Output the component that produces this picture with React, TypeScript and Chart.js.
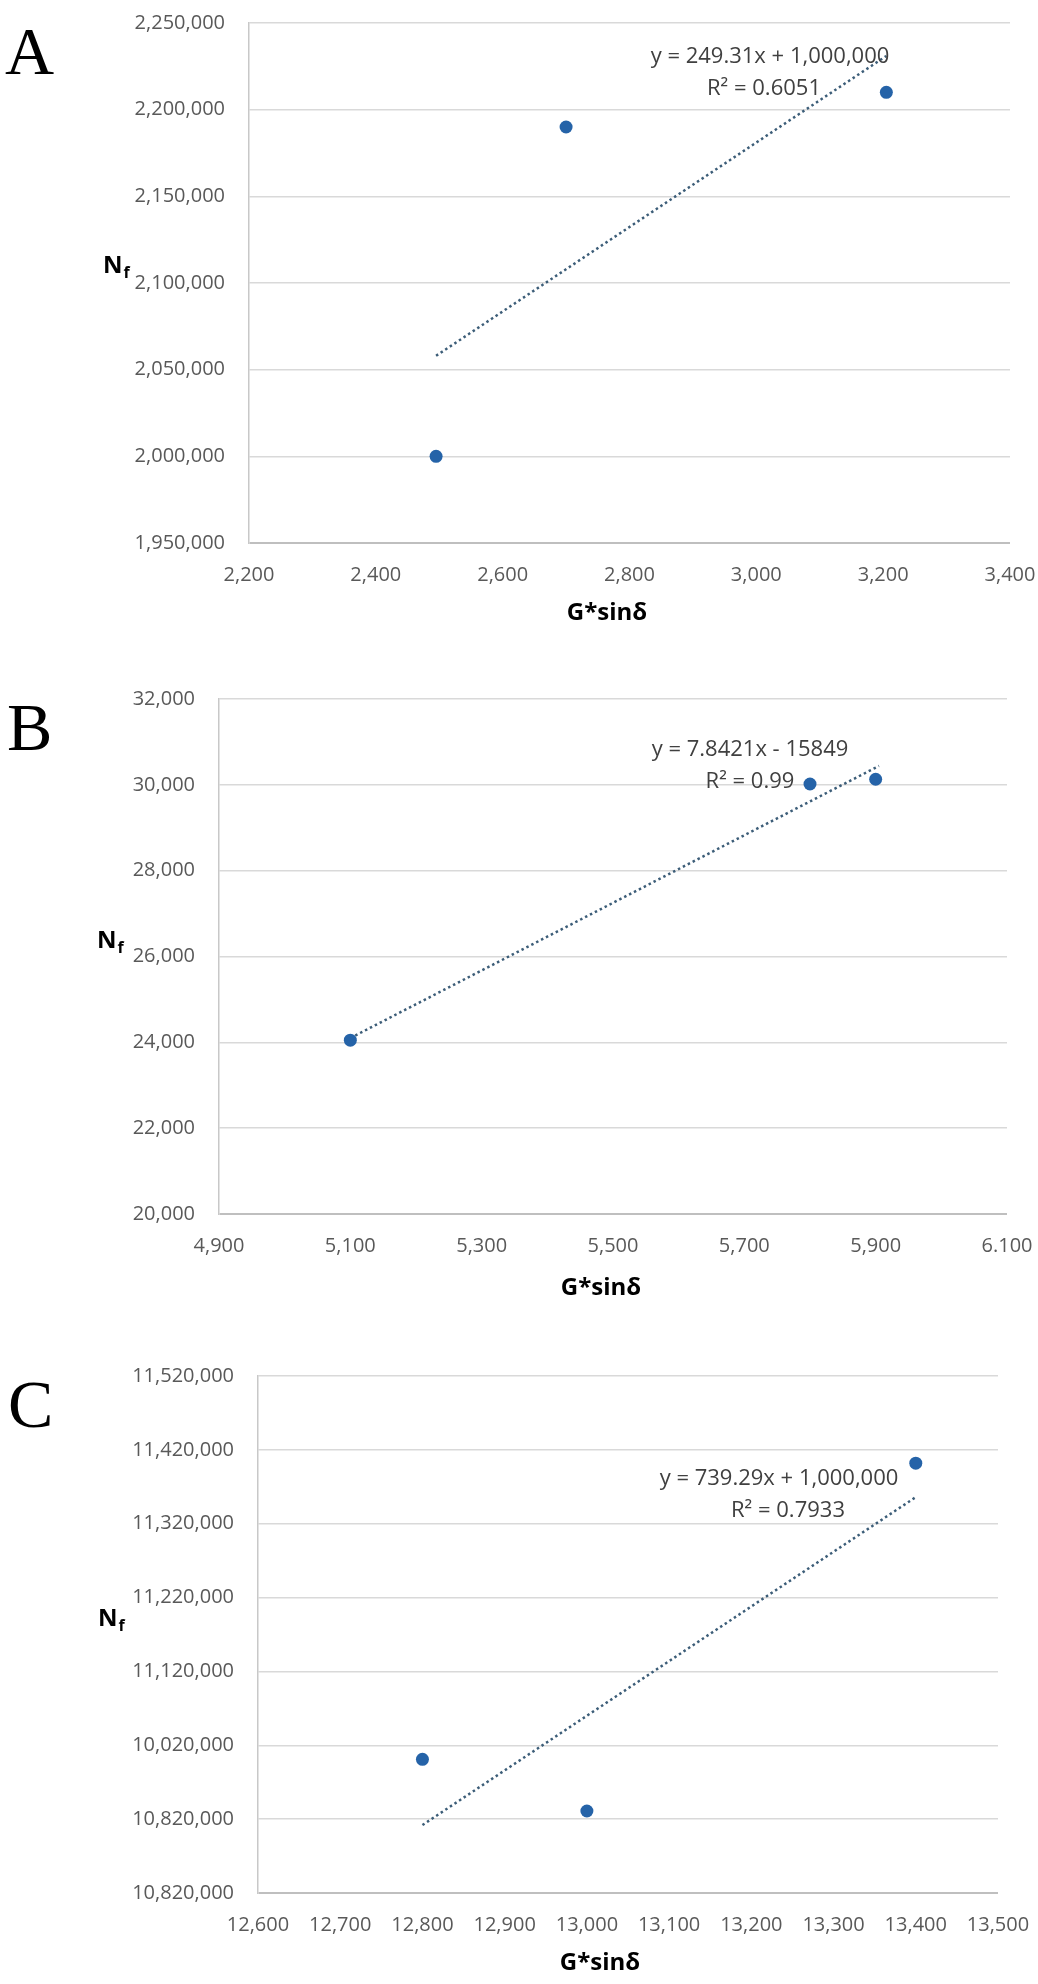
import React, { useEffect, useRef } from 'react';
import { Chart, registerables } from 'chart.js';

Chart.register(...registerables);

// === Panel A ===
const xA = [2495, 2700, 3205];
const yA = [2000000, 2190000, 2210000];
const trendXA = [2495, 3205];
const trendYA = [2058000, 2231000];
const xTicksA = ['2,200', '2,400', '2,600', '2,800', '3,000', '3,200', '3,400'];
const yTicksA = ['1,950,000', '2,000,000', '2,050,000', '2,100,000', '2,150,000', '2,200,000', '2,250,000'];
const eqA = ['y = 249.31x + 1,000,000', 'R\u00B2 = 0.6051'];

// === Panel B ===
const xB = [5100, 5800, 5900];
const yB = [24050, 30020, 30130];
const trendXB = [5100, 5905];
const trendYB = [24100, 30440];
const xTicksB = ['4,900', '5,100', '5,300', '5,500', '5,700', '5,900', '6.100'];
const yTicksB = ['20,000', '22,000', '24,000', '26,000', '28,000', '30,000', '32,000'];
const eqB = ['y = 7.8421x - 15849', 'R\u00B2 = 0.99'];

// === Panel C ===
const xC = [12800, 13000, 13400];
const yC = [11001000, 10931000, 11402000];
const trendXC = [12800, 13400];
const trendYC = [10912000, 11356000];
const xTicksC = ['12,600', '12,700', '12,800', '12,900', '13,000', '13,100', '13,200', '13,300', '13,400', '13,500'];
// labels as printed in the figure (bottom to top)
const yTicksC = ['10,820,000', '10,820,000', '10,020,000', '11,120,000', '11,220,000', '11,320,000', '11,420,000', '11,520,000'];
const eqC = ['y = 739.29x + 1,000,000', 'R\u00B2 = 0.7933'];

// === Styles ===
const W = 1038;
const DOT = '#2563a8';
const TREND = '#3c5d78';
const TICK = '#595959';
const GRID = '#d9d9d9';
const AXIS = '#bfbfbf';
const SANS = '"Open Sans", "Noto Sans", sans-serif';

interface PanelProps {
  letter: string;
  top: number;
  height: number;
  area: { left: number; right: number; top: number; bottom: number };
  xRange: [number, number, number];
  yRange: [number, number, number];
  xs: number[];
  ys: number[];
  trendX: number[];
  trendY: number[];
  xTicks: string[];
  yTicks: string[];
  eq: string[];
  eqPos: [number, number][];
  letterPos: [number, number];
  nfPos: [number, number];
  titlePos: [number, number];
}

const Panel: React.FC<PanelProps> = (p) => {
  const canvasRef = useRef<HTMLCanvasElement>(null);

  useEffect(() => {
    if (!canvasRef.current) return;

    // letters, axis titles and the trendline equation
    const textPlugin = {
      id: 'panelText',
      afterDraw(chart: Chart) {
        const ctx = chart.ctx;
        ctx.save();
        ctx.textBaseline = 'alphabetic';

        ctx.fillStyle = '#000';
        ctx.textAlign = 'left';
        ctx.font = '68px "Liberation Serif", "Times New Roman", serif';
        ctx.fillText(p.letter, p.letterPos[0], p.letterPos[1]);

        ctx.font = `bold 24px ${SANS}`;
        ctx.fillText('N', p.nfPos[0], p.nfPos[1]);
        const nw = ctx.measureText('N').width;
        ctx.font = `bold 16px ${SANS}`;
        ctx.fillText('f', p.nfPos[0] + nw + 1, p.nfPos[1] + 5);

        ctx.textAlign = 'center';
        ctx.textBaseline = 'middle';
        ctx.font = `bold 24px ${SANS}`;
        ctx.fillText('G*sin\u03B4', p.titlePos[0], p.titlePos[1]);

        ctx.fillStyle = '#404040';
        ctx.font = `22px ${SANS}`;
        p.eq.forEach((line, i) => ctx.fillText(line, p.eqPos[i][0], p.eqPos[i][1]));
        ctx.restore();
      },
    };

    const chart = new Chart(canvasRef.current, {
      type: 'scatter',
      data: {
        datasets: [
          {
            data: p.xs.map((x, i) => ({ x, y: p.ys[i] })),
            backgroundColor: DOT,
            borderWidth: 0,
            pointRadius: 6.5,
            pointHoverRadius: 6.5,
          },
          {
            data: p.trendX.map((x, i) => ({ x, y: p.trendY[i] })),
            showLine: true,
            pointRadius: 0,
            borderColor: TREND,
            borderWidth: 2.5,
            borderDash: [2.5, 3],
            fill: false,
          },
        ],
      },
      options: {
        animation: false,
        responsive: true,
        maintainAspectRatio: false,
        layout: { padding: { left: 0, top: p.area.top, right: W - p.area.right, bottom: 0 } },
        plugins: { legend: { display: false }, tooltip: { enabled: false } },
        scales: {
          x: {
            type: 'linear',
            min: p.xRange[0],
            max: p.xRange[1],
            ticks: {
              stepSize: p.xRange[2],
              autoSkip: false,
              maxRotation: 0,
              padding: 20,
              color: TICK,
              font: { family: SANS, size: 20 },
              callback: (_v: any, i: number) => p.xTicks[i],
            },
            grid: { display: false, drawTicks: false },
            border: { display: false },
            afterFit: (s: any) => {
              s.height = p.height - p.area.bottom;
              s.paddingLeft = 0;
              s.paddingRight = 0;
            },
          },
          y: {
            type: 'linear',
            min: p.yRange[0],
            max: p.yRange[1],
            ticks: {
              stepSize: p.yRange[2],
              autoSkip: false,
              padding: 24,
              color: TICK,
              font: { family: SANS, size: 20 },
              callback: (_v: any, i: number) => p.yTicks[i],
            },
            grid: {
              color: (c: any) => (c.index === 0 ? AXIS : GRID),
              lineWidth: (c: any) => (c.index === 0 ? 2 : 1.5),
              drawTicks: false,
            },
            border: { display: true, color: '#c8c8c8', width: 1.5 },
            afterFit: (s: any) => {
              s.width = p.area.left;
              s.paddingTop = 0;
              s.paddingBottom = 0;
            },
          },
        },
      },
      plugins: [textPlugin],
    });

    return () => chart.destroy();
  }, [p]);

  return (
    <div style={{ position: 'absolute', left: 0, top: p.top, width: W, height: p.height }}>
      <canvas ref={canvasRef} />
    </div>
  );
};

const PANELS: PanelProps[] = [
  {
    letter: 'A', top: 0, height: 676,
    area: { left: 249, right: 1010, top: 23, bottom: 543 },
    xRange: [2200, 3400, 200], yRange: [1950000, 2250000, 50000],
    xs: xA, ys: yA, trendX: trendXA, trendY: trendYA,
    xTicks: xTicksA, yTicks: yTicksA, eq: eqA,
    eqPos: [[770, 57], [764, 89]], letterPos: [5, 74], nfPos: [103, 273], titlePos: [607, 613],
  },
  {
    letter: 'B', top: 676, height: 676,
    area: { left: 219, right: 1007, top: 23, bottom: 538 },
    xRange: [4900, 6100, 200], yRange: [20000, 32000, 2000],
    xs: xB, ys: yB, trendX: trendXB, trendY: trendYB,
    xTicks: xTicksB, yTicks: yTicksB, eq: eqB,
    eqPos: [[750, 74], [750, 106]], letterPos: [7, 74], nfPos: [97, 272], titlePos: [601, 612],
  },
  {
    letter: 'C', top: 1352, height: 632,
    area: { left: 258, right: 998, top: 24, bottom: 541 },
    xRange: [12600, 13500, 100], yRange: [10820000, 11520000, 100000],
    xs: xC, ys: yC, trendX: trendXC, trendY: trendYC,
    xTicks: xTicksC, yTicks: yTicksC, eq: eqC,
    eqPos: [[779, 127], [788, 159]], letterPos: [8, 75], nfPos: [98, 274], titlePos: [600, 611],
  },
];

export default function App() {
  return (
    <div style={{ position: 'absolute', left: 0, top: 0, width: W, height: 1984, background: '#fff' }}>
      {PANELS.map((panel) => (
        <Panel key={panel.letter} {...panel} />
      ))}
    </div>
  );
}
